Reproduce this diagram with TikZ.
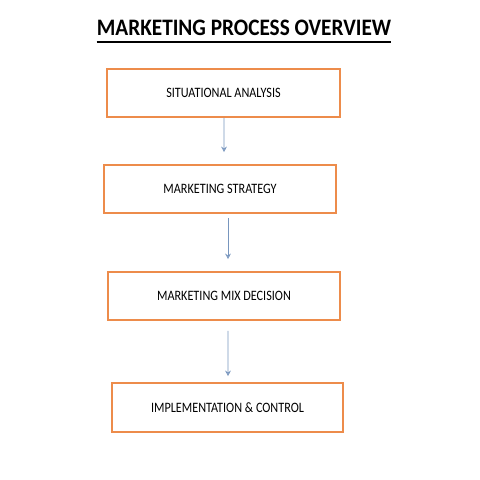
\documentclass[tikz,border=0pt]{standalone}
\usepackage{fontspec}
\setmainfont{Carlito}
\usepackage{tikz}
\usetikzlibrary{arrows.meta}

\definecolor{boxorange}{RGB}{237,140,75}
\definecolor{flowblue}{RGB}{120,150,190}

\newcommand{\steptext}[1]{\scalebox{0.85}[1]{#1}}

\tikzset{
  stepbox/.style={draw=boxorange, line width=1.1pt, minimum width=233*0.025cm,
    minimum height=48*0.025cm, inner sep=0pt, font=\fontsize{10.2}{12}\selectfont},
  flow/.style={draw=flowblue, line width=0.6pt, -{Stealth[length=4pt,width=4pt,open]}}
}

\begin{document}
\begin{tikzpicture}[x=0.025cm,y=-0.025cm]
  \useasboundingbox (0,0) rectangle (480,480);
  \node[anchor=base, inner sep=0pt] (title) at (244,35)
    {\fontsize{16.8}{19}\selectfont\bfseries\scalebox{0.9}[1]{MARKETING PROCESS OVERVIEW}};
  \draw[line width=1.4pt] (title.base west) ++(0,7) -- ++(294,0);
  \node[stepbox] (situation) at (223.5,93) {\steptext{SITUATIONAL ANALYSIS}};
  \node[stepbox, minimum width=232*0.025cm] (strategy) at (220,189) {\steptext{MARKETING STRATEGY}};
  \node[stepbox, minimum width=232*0.025cm] (mix) at (224,296) {\steptext{MARKETING MIX DECISION}};
  \node[stepbox, minimum width=231*0.025cm, minimum height=49*0.025cm] (control) at (227.5,407.5)
    {\steptext{IMPLEMENTATION \& CONTROL}};
  \draw[flow, shorten >=12*0.025cm]
    ([xshift=0.5*0.025cm]situation.south)
    --
    ([xshift=4*0.025cm]strategy.north);
  \draw[flow, shorten <=4*0.025cm, shorten >=12*0.025cm]
    ([xshift=8*0.025cm]strategy.south)
    --
    ([xshift=4*0.025cm]mix.north);
  \draw[flow, shorten <=10*0.025cm, shorten >=6*0.025cm]
    ([xshift=4*0.025cm]mix.south)
    --
    ([xshift=0.5*0.025cm]control.north);
\end{tikzpicture}
\end{document}
